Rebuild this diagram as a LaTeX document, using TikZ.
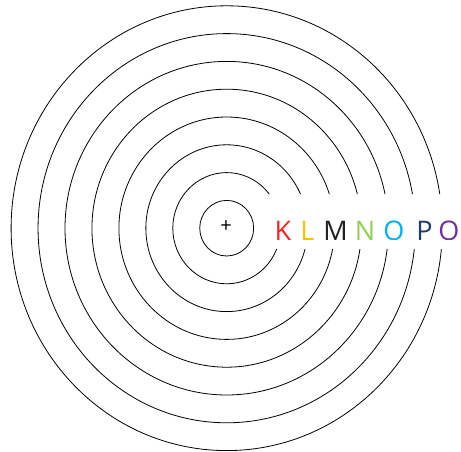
\documentclass[tikz,border=0pt]{standalone}
\usepackage{fontspec}
\setmainfont{Open Sans}
\definecolor{cK}{HTML}{FF2020}
\definecolor{cL}{HTML}{FFC000}
\definecolor{cM}{HTML}{202020}
\definecolor{cN}{HTML}{92D050}
\definecolor{cO}{HTML}{00B0F0}
\definecolor{cP}{HTML}{1F3A70}
\definecolor{cQ}{HTML}{7030A0}
\begin{document}
\begin{tikzpicture}[x=1pt,y=-1pt,
  shell/.style={draw=black,line width=0.8pt},
  letter/.style={anchor=base,inner sep=0pt,font=\fontsize{27}{30}\selectfont}]
\useasboundingbox (0,0) rectangle (461,452);
\coordinate (c) at (226.7,228.2);
\begin{scope}
  \clip (0,0) rectangle (461,194) (0,249) rectangle (461,452) (0,194) rectangle (258,249);
  \foreach \n in {1,...,8}{
    \draw[shell] (c) ellipse [x radius={26.95*\n}, y radius={27.8*\n}];
  }
\end{scope}
\node[inner sep=0pt,font=\fontsize{20}{22}\selectfont] (plus) at (226,227) {+};
\begin{scope}
  \clip (258,194) rectangle (461,239.9);
  \node[letter,text=cK] (K) at (283,240.6) {K};
  \node[letter,text=cL] (L) at (307.5,240.6) {L};
  \node[letter,text=cM] (M) at (335.5,240.6) {M};
  \node[letter,text=cN] (N) at (365,240.6) {N};
  \node[letter,text=cO] (O) at (394,240.6) {O};
  \node[letter,text=cP] (P) at (424.5,240.6) {P};
  \node[letter,text=cQ] (Q) at (449,240.6) {Q};
\end{scope}
\end{tikzpicture}
\end{document}
